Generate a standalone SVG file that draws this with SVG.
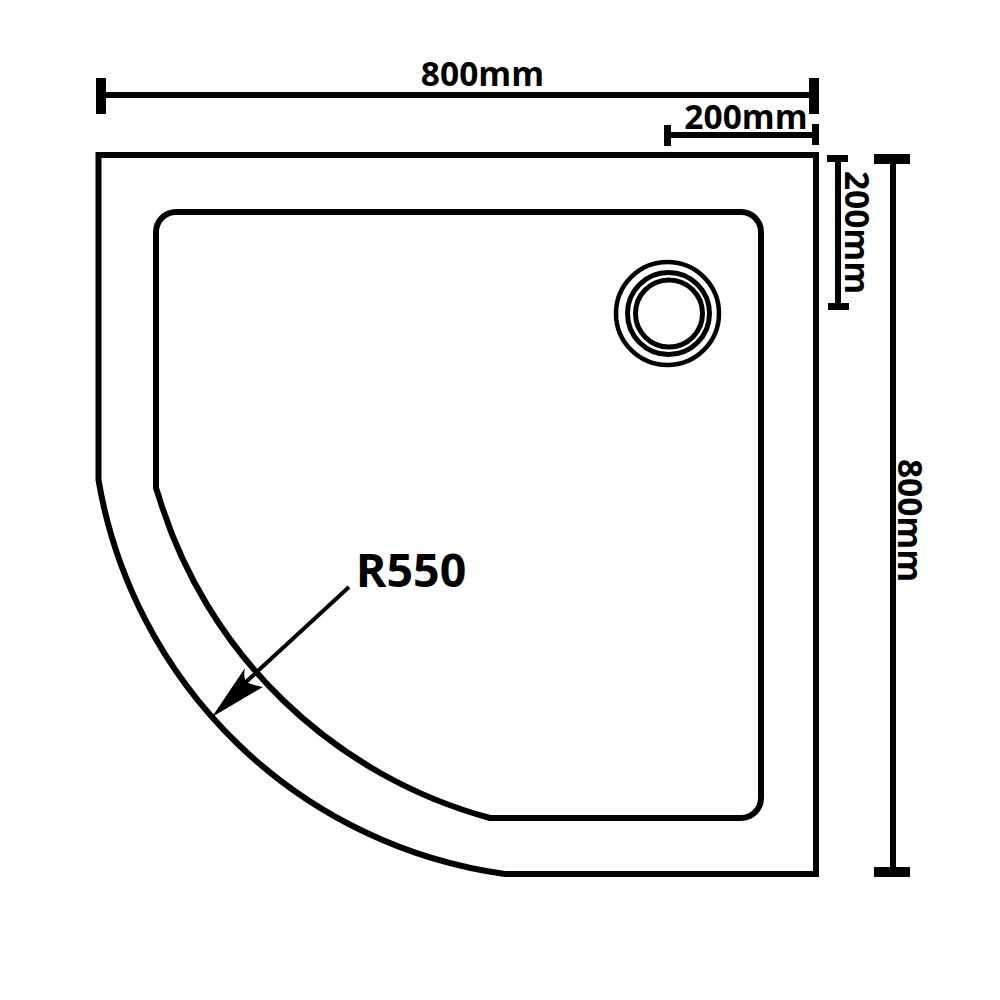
<svg xmlns="http://www.w3.org/2000/svg" width="1000" height="1000" viewBox="0 0 1000 1000">
<style>
.o{fill:none;stroke:#000;stroke-width:6}
.c{fill:#000}
.t{font-family:"Open Sans","Liberation Sans",sans-serif;font-weight:700;fill:#000}
</style>
<rect width="1000" height="1000" fill="#fff"/>
<g id="tray-outer"><path class="o" d="M505 874H816V155H98.500V480A479 479 0 0 0 505 874Z" stroke-linejoin="miter"/></g>
<g id="tray-inner"><path class="o" d="M176 212H741A20 20 0 0 1 761 232V798A20 20 0 0 1 741 818H490A476 476 0 0 1 159 497L156 488V232A20 20 0 0 1 176 212Z"/></g>
<g id="waste">
<circle class="o" cx="667.500" cy="313.500" r="51.500" style="stroke-width:4.500"/>
<circle class="o" cx="668.500" cy="313.500" r="41" style="stroke-width:5"/>
<circle class="o" cx="669" cy="313.500" r="33.500" style="stroke-width:5"/>
</g>
<g id="connectors">
<path class="c" d="M96 78h10v14H809V78h10v36h-10V98H106v16H96Z"/>
<path class="c" d="M664 125h7v7H812V124h7v21h-7V138H671v8h-7Z"/>
<path class="c" d="M827 155h21v7h-7V303h8v7h-21v-7h7V162h-8Z"/>
<path class="c" d="M874 154h36v10h-14V867h14v10h-36v-10h16V164h-16Z"/>
<path d="M349 587L235 692" fill="none" stroke="#000" stroke-width="4"/>
<path class="c" d="M212 717L245 668Q243 676 246 682Q252 685 263 687Z"/>
</g>
<g id="labels">
<text class="t" x="482.500" y="86" font-size="33.500" text-anchor="middle">800mm</text>
<text class="t" x="746" y="129" font-size="33.500" text-anchor="middle">200mm</text>
<text class="t" x="411" y="586.500" font-size="46.500" text-anchor="middle">R550</text>
<text class="t" font-size="33.500" text-anchor="middle" transform="translate(845 232.500) rotate(90)">200mm</text>
<text class="t" font-size="33.500" text-anchor="middle" transform="translate(898 520.500) rotate(90)">800mm</text>
</g>
</svg>
